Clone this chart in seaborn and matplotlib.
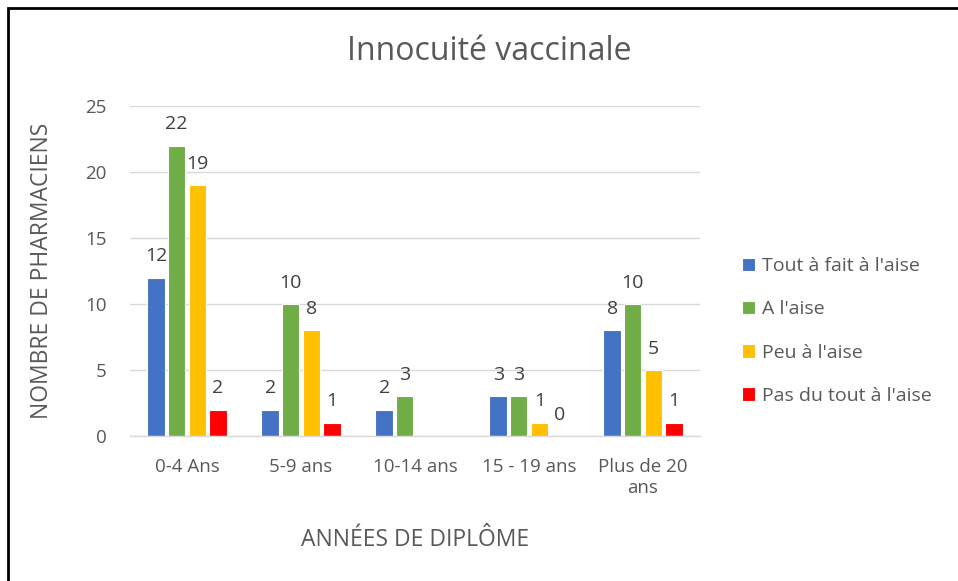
import numpy as np
import pandas as pd
import matplotlib
matplotlib.use("Agg")
import matplotlib.pyplot as plt
import seaborn as sns
from matplotlib.patches import Rectangle

categories = ["0-4 Ans", "5-9 ans", "10-14 ans", "15 - 19 ans", "Plus de 20\nans"]
series = ["Tout à fait à l'aise", "A l'aise", "Peu à l'aise", "Pas du tout à l'aise"]
tout_a_fait = [12, 2, 2, 3, 8]
a_l_aise = [22, 10, 3, 3, 10]
peu = [19, 8, np.nan, 1, 5]
pas_du_tout = [2, 1, np.nan, 0, 1]
colors = ["#4472C4", "#70AD47", "#FFC000", "#FF0000"]

rows = []
for s, vals in zip(series, [tout_a_fait, a_l_aise, peu, pas_du_tout]):
    for c, v in zip(categories, vals):
        rows.append({"cat": c, "serie": s, "val": v})
df = pd.DataFrame(rows)

sns.set_theme(style="white")
plt.rcParams["font.family"] = ["Open Sans", "DejaVu Sans"]
txt = "#595959"

fig = plt.figure(figsize=(9.58, 5.81), dpi=100)
ax = fig.add_axes([130/958, 1-436/581, (700-130)/958, (436-106)/581])

sns.barplot(data=df, x="cat", y="val", hue="serie", order=categories,
            hue_order=series, palette=colors, width=0.72, ax=ax,
            legend=True, errorbar=None, saturation=1,
            edgecolor="white", linewidth=0.8)

for cont in ax.containers:
    for b in cont:
        w = b.get_width()
        b.set_width(w * 0.85)
        b.set_x(b.get_x() + w * 0.075)
    labels = ["" if np.isnan(v) else f"{v:g}" for v in cont.datavalues]
    ax.bar_label(cont, labels=labels, padding=9, fontsize=14, color="#404040")

ax.set_ylim(0, 25)
ax.set_xlim(-0.5, len(categories) - 0.5)
ax.set_yticks([0, 5, 10, 15, 20, 25])
ax.yaxis.grid(True, color="#D9D9D9", linewidth=1)
ax.set_axisbelow(True)
for side in ["left", "right", "top"]:
    ax.spines[side].set_visible(False)
ax.spines["bottom"].set_color("#D9D9D9")
ax.spines["bottom"].set_linewidth(1)

ax.tick_params(axis="y", labelsize=13.5, labelcolor=txt, length=0, pad=17)
ax.tick_params(axis="x", labelsize=13.5, labelcolor=txt, length=0, pad=16)
ax.set_xticks(range(len(categories)))
ax.set_xticklabels(categories)
ax.set_xticks(np.arange(-0.5, len(categories)), minor=True)
ax.tick_params(axis="x", which="minor", length=6, color="#D9D9D9", width=1, direction="out")

ax.set_xlabel("ANNÉES DE DIPLÔME", fontsize=16.5, color=txt, labelpad=22)
ax.set_ylabel("NOMBRE DE PHARMACIENS", fontsize=16.5, color=txt, labelpad=22)
fig.text(489/958, 1-52/581, "Innocuité vaccinale", ha="center", va="center",
         fontsize=23, color=txt)

handles, labs = ax.get_legend_handles_labels()
ax.get_legend().remove()
fig.legend(handles, labs, loc="center left", bbox_to_anchor=(724/958, 1-331/581),
           frameon=False, fontsize=14, labelcolor=txt, handlelength=0.68,
           handleheight=0.68, handletextpad=0.35, labelspacing=1.3)

fig.patches.append(Rectangle((8/958, -0.1), 1.2, 1 - 8/581 + 0.1,
                             transform=fig.transFigure, fill=False,
                             edgecolor="black", linewidth=2))

fig.savefig("out.png", dpi=100)
